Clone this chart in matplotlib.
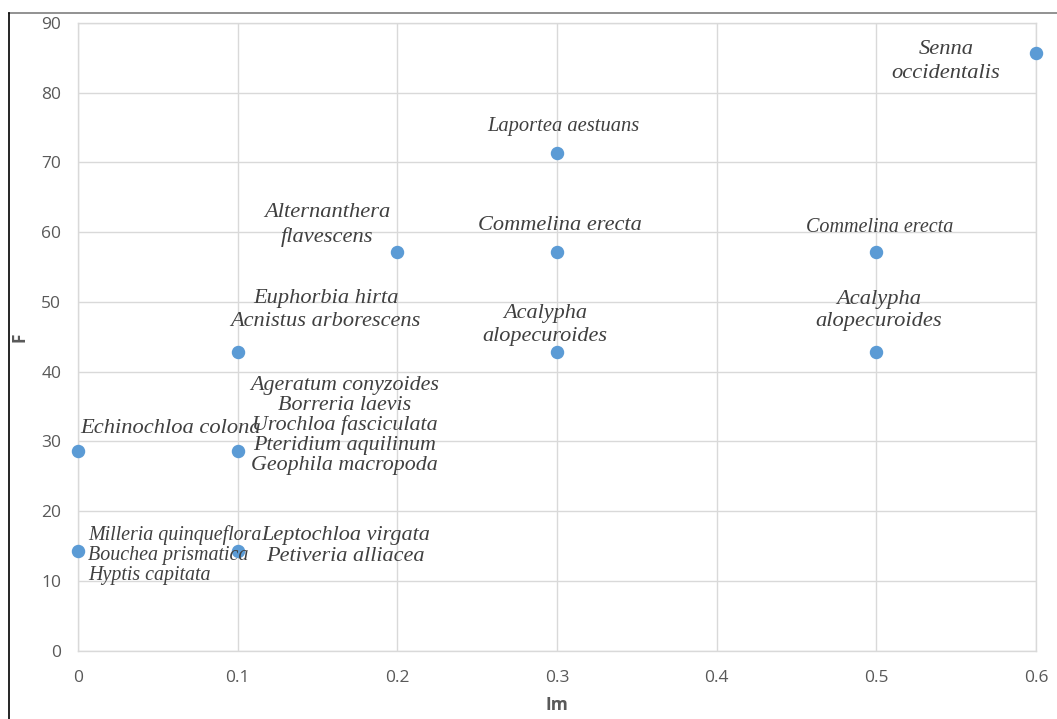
import matplotlib.pyplot as plt
from matplotlib.lines import Line2D

# data
im = [0.0, 0.0, 0.1, 0.1, 0.1, 0.2, 0.3, 0.3, 0.3, 0.5, 0.5, 0.6]
f = [28.57, 14.29, 42.86, 28.57, 14.29, 57.14, 71.43, 57.14, 42.86, 57.14, 42.86, 85.71]
names = [
    "Echinochloa colona",
    "Milleria quinqueflora\nBouchea prismatica\nHyptis capitata",
    "Euphorbia hirta\nAcnistus arborescens",
    "Ageratum conyzoides\nBorreria laevis\nUrochloa fasciculata\nPteridium aquilinum\nGeophila macropoda",
    "Leptochloa virgata\nPetiveria alliacea",
    "Alternanthera\nflavescens",
    "Laportea aestuans",
    "Commelina erecta",
    "Acalypha\nalopecuroides",
    "Commelina erecta",
    "Acalypha\nalopecuroides",
    "Senna\noccidentalis",
]
xticks = [0, 0.1, 0.2, 0.3, 0.4, 0.5, 0.6]
xticklabels = ["0", "0.1", "0.2", "0.3", "0.4", "0.5", "0.6"]
yticks = [0, 10, 20, 30, 40, 50, 60, 70, 80, 90]

# label placement (pixel offsets from the marker), alignment, size
label_off = [(93, 23), (10, -4), (88, 42), (107, 26), (108, 5), (-70, 27),
             (6, 26), (3, 27), (-12, 27), (3, 25), (2, 41), (-90, -9)]
label_ha = ["center", "left", "center", "center", "center", "center",
            "center", "center", "center", "center", "center", "center"]
label_size = [16.2, 14.4, 16.1, 15.8, 16.0, 16.2, 14.8, 16.1, 16.0, 14.5, 16.2, 16.2]
label_ls = [1.15, 1.1, 1.25, 1.04, 1.2, 1.32, 1.15, 1.15, 1.3, 1.15, 1.22, 1.35]

fig = plt.figure(figsize=(10.57, 7.19), dpi=100)
ax = fig.add_axes([78 / 1057, 1 - 650.7 / 719, (1036 - 78) / 1057, (650.7 - 23) / 719])

ax.scatter(im, f, s=75, color="#5B9BD5", zorder=3, clip_on=False)

for i, name in enumerate(names):
    ax.annotate(name, (im[i], f[i]), xytext=label_off[i], textcoords="offset pixels",
                ha=label_ha[i], va="center", multialignment=label_ha[i],
                fontsize=label_size[i], family="Liberation Serif", style="italic",
                color="#404040", linespacing=label_ls[i], zorder=4)

ax.set_xlim(0, 0.6)
ax.set_ylim(0, 90)
ax.set_xticks(xticks)
ax.set_xticklabels(xticklabels)
ax.set_yticks(yticks)
ax.grid(True, color="#d9d9d9", linewidth=1)
ax.set_axisbelow(True)
for s in ax.spines.values():
    s.set_color("#d9d9d9")
    s.set_linewidth(1)
ax.tick_params(length=0, labelsize=12.5, labelcolor="#595959")
ax.tick_params(axis="x", pad=14)
ax.tick_params(axis="y", pad=12)
for lab in ax.get_xticklabels() + ax.get_yticklabels():
    lab.set_family("Open Sans")

ax.set_xlabel("Im", fontsize=12.5, fontweight="bold", color="#595959", family="Open Sans", labelpad=7)
ax.set_ylabel("F", fontsize=12.5, fontweight="bold", color="#595959", family="Open Sans", labelpad=9)

# chart frame (top and left edges visible)
fig.add_artist(Line2D([9 / 1057, 1], [1 - 13 / 719, 1 - 13 / 719], color="#7f7f7f", linewidth=1.2))
fig.add_artist(Line2D([9 / 1057, 9 / 1057], [0, 1 - 13 / 719], color="black", linewidth=1.2))

fig.savefig("out.png", dpi=100)
